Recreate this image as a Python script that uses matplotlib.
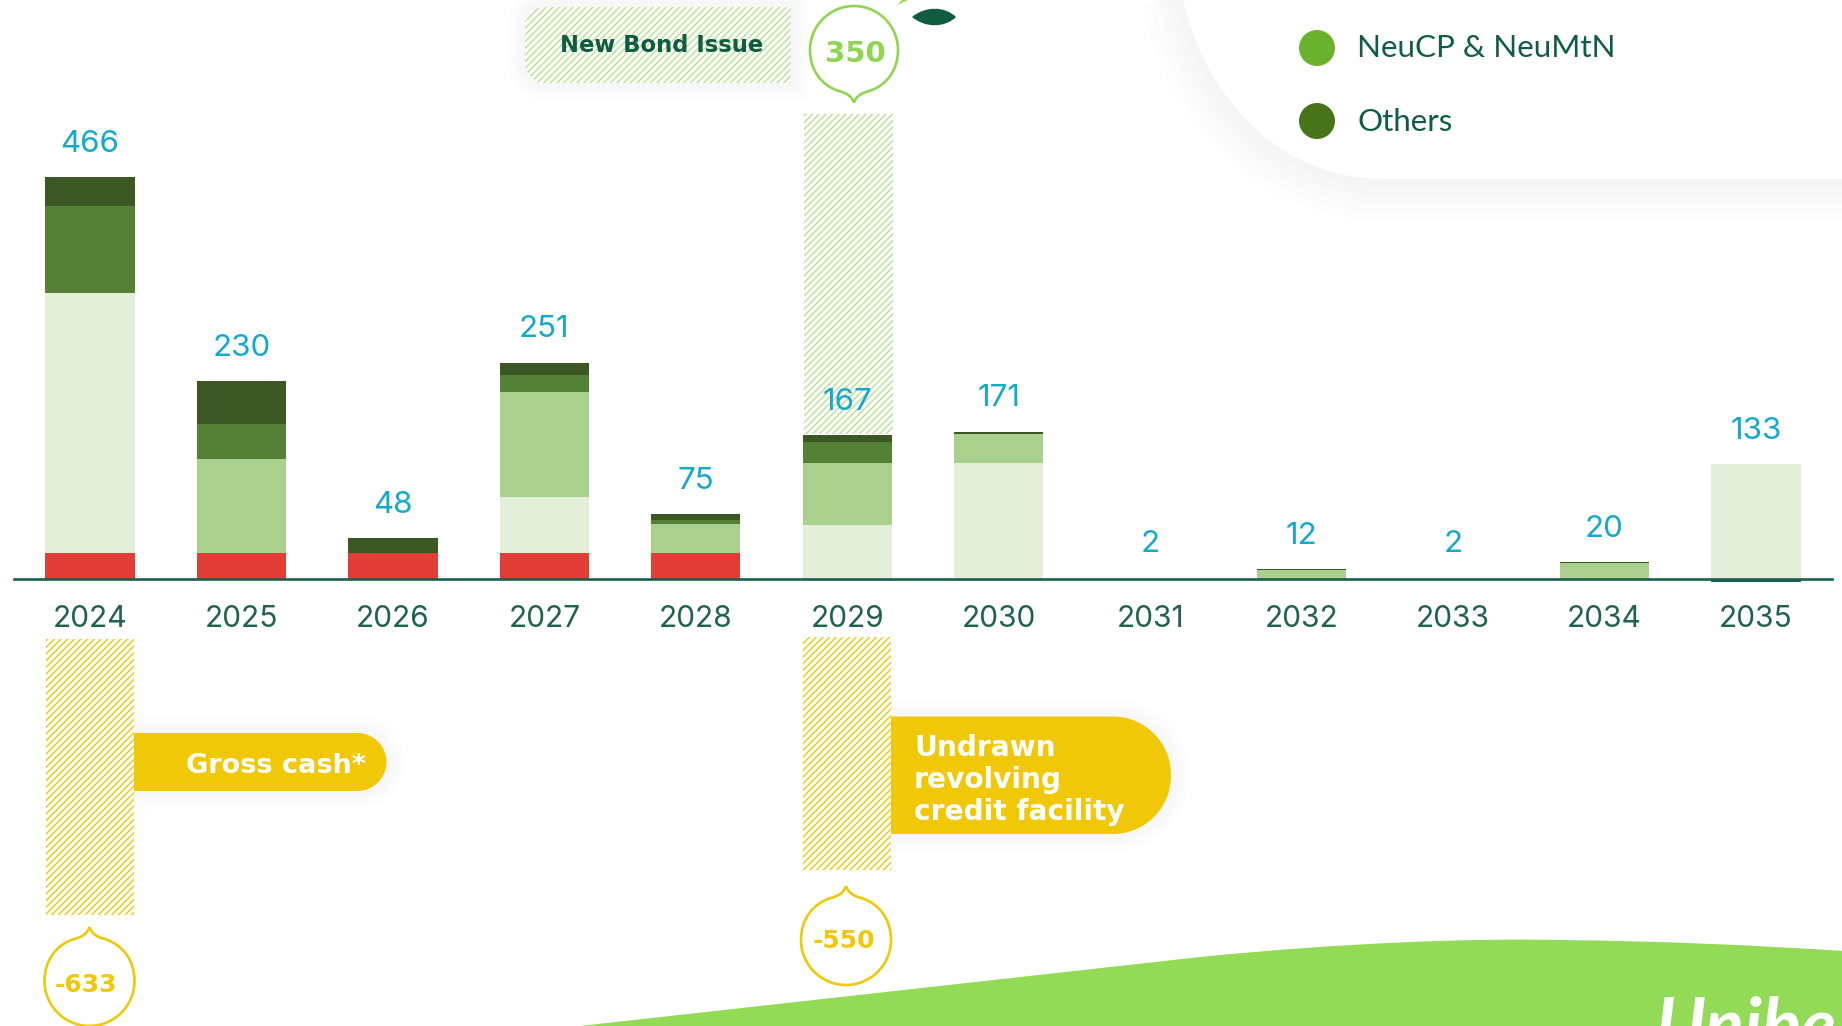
import matplotlib
matplotlib.use("Agg")
import matplotlib.pyplot as plt
from matplotlib.patches import PathPatch, Circle
from matplotlib.path import Path

plt.rcParams['font.family'] = ['Lato', 'DejaVu Sans']
plt.rcParams['hatch.linewidth'] = 1.0

# chart data
years = [2024, 2025, 2026, 2027, 2028, 2029, 2030, 2031, 2032, 2033, 2034, 2035]
totals = [466, 230, 48, 251, 75, 167, 171, 2, 12, 2, 20, 133]
red_part = [30, 30, 30, 30, 30, 0, 0, 0, 0, 0, 0, 0]
light_part = [302, 0, 0, 65, 0, 63, 134, 0, 0, 0, 0, 133]
medium_part = [0, 109, 0, 122, 34, 72, 34, 0, 10, 0, 18, 0]
green_part = [100, 41, 0, 19, 4, 24, 0, 0, 0, 0, 0, 0]
# 2031 and 2033 show a label but no visible bar
dark_part = [34, 50, 18, 15, 7, 8, 3, 0, 2, 0, 2, 0]

# the hatched bars are not drawn to the same scale as their labels
bond_year = 2029
bond_label = "350"
bond_drawn = 371
cash_years = [2024, 2029]
cash_labels = ["-633", "-550"]
cash_drawn = [320, 270]

legend_names = ["NeuCP & NeuMtN", "Others"]
legend_colors = ["#6AB22E", "#487519"]

RED = "#E23D36"
LIGHT = "#E3EFD8"
MEDIUM = "#A9D18D"
GREEN = "#548135"
DARK = "#3B5723"
BLUE = "#12A9CF"
TEAL = "#1E6350"
YELLOW = "#F0C808"
LIME = "#93DA57"

W, H = 1842, 1026
fig = plt.figure(figsize=(W / 100, H / 100), dpi=100, facecolor="white")

# pixel axes for the decoration
deco = fig.add_axes([0, 0, 1, 1])
deco.set_xlim(0, W)
deco.set_ylim(H, 0)
deco.axis("off")

# chart axes, also over the whole figure: 151.45 px per year, 0.8625 px per unit
ax = fig.add_axes([0, 0, 1, 1], facecolor="none")
step = 151.45
unit = 0.8625
base_y = 579
ax.set_xlim(2024 - 90 / step, 2024 + (W - 90) / step)
ax.set_ylim(-(H - base_y) / unit, base_y / unit)
for s in ["top", "left", "right"]:
    ax.spines[s].set_visible(False)
ax.spines["bottom"].set_position(("data", 0))
ax.spines["bottom"].set_bounds(2024 - 76 / step, 2024 + (1832 - 90) / step)
ax.spines["bottom"].set_color("#1A5F4E")
ax.spines["bottom"].set_linewidth(1.9)
ax.set_yticks([])
ax.set_xticks(years)
ax.set_xticklabels(years, fontsize=21.5, color=TEAL, family=["Inter", "DejaVu Sans"])
ax.tick_params(axis="x", length=0, pad=19)

bar_w = 0.59
bottom = [0] * len(years)
for part, col in [(red_part, RED), (light_part, LIGHT), (medium_part, MEDIUM),
                  (green_part, GREEN), (dark_part, DARK)]:
    ax.bar(years, part, bar_w, bottom=bottom, color=col, linewidth=0)
    bottom = [b + p for b, p in zip(bottom, part)]
ax.bar([2035], [-3], bar_w, color="#1A5F4E", linewidth=0)

for yr, t in zip(years, totals):
    ax.annotate(str(t), (yr, t), xytext=(0, 23.8), textcoords="offset points",
                ha="center", va="center", fontsize=22.5, color=BLUE,
                family=["Inter", "DejaVu Sans"])

# hatched bars
ax.bar([bond_year + 0.01], [bond_drawn], bar_w, bottom=[totals[5] + 1], color="white",
       edgecolor="#B5E08F", hatch="/////", linewidth=0, zorder=0.5)
cash_tops = [-69.4, -67]
for yr, d, top in zip(cash_years, cash_drawn, cash_tops):
    ax.bar([yr], [-d], 0.578, bottom=[top], color="white", edgecolor=YELLOW,
           hatch="/////", linewidth=0)


def shadow(path, z=1):
    for lw in [26, 20, 14, 8]:
        deco.add_patch(PathPatch(path, facecolor="none", edgecolor="black", alpha=0.006,
                                 linewidth=lw, zorder=z))


def tab(x0, y0, x1, y1, r, side):
    # box with round corners on one side only
    M, L, C, Z = Path.MOVETO, Path.LINETO, Path.CURVE4, Path.CLOSEPOLY
    k = 0.45 * r
    codes = [M, L, C, C, C, L, C, C, C, L, Z]
    if side == "right":
        verts = [(x0, y0), (x1 - r, y0), (x1 - k, y0), (x1, y0 + k), (x1, y0 + r),
                 (x1, y1 - r), (x1, y1 - k), (x1 - k, y1), (x1 - r, y1), (x0, y1), (x0, y0)]
    else:
        verts = [(x1, y0), (x0 + r, y0), (x0 + k, y0), (x0, y0 + k), (x0, y0 + r),
                 (x0, y1 - r), (x0, y1 - k), (x0 + k, y1), (x0 + r, y1), (x1, y1), (x1, y0)]
    return Path(verts, codes)


def drop(cx, cy, r, up, color):
    # round bubble with a small point on top or bottom
    s = -1 if up else 1
    pts = [(0, 1.2), (0.05, 1.0), (0.35, 0.93), (0.75, 0.8), (1, 0.45), (1, 0),
           (1, -0.55), (0.55, -1), (0, -1), (-0.55, -1), (-1, -0.55), (-1, 0),
           (-1, 0.45), (-0.75, 0.8), (-0.35, 0.93), (-0.05, 1.0), (0, 1.2)]
    codes = [Path.MOVETO, Path.CURVE3, Path.CURVE3] + [Path.CURVE4] * 12 + [Path.CURVE3, Path.CURVE3]
    verts = [(cx + x * r, cy + s * y * r) for x, y in pts]
    deco.add_patch(PathPatch(Path(verts, codes), facecolor="white", edgecolor=color,
                             linewidth=1.9, zorder=3))


# legend panel
panel = Path([(1182, -5), (1205, 100), (1280, 179), (1385, 179), (W + 30, 179), (W + 30, -5), (1182, -5)],
             [Path.MOVETO, Path.CURVE4, Path.CURVE4, Path.CURVE4, Path.LINETO, Path.LINETO, Path.CLOSEPOLY])
for lw in [60, 48, 36, 24, 12]:
    deco.add_patch(PathPatch(panel, facecolor="none", edgecolor="black", alpha=0.006, linewidth=lw, zorder=1))
deco.add_patch(PathPatch(panel, facecolor="white", edgecolor="none", zorder=1.5))
for name, col, y in zip(legend_names, legend_colors, [48, 122]):
    deco.add_patch(Circle((1317, min(y, 121)), 18, facecolor=col, edgecolor="none", zorder=2))
    deco.text(1357, y, name, fontsize=22.6, color="#0F5C45", va="center", ha="left", zorder=2)

# new bond tag
p = tab(525, 7, 791, 83, 20, "left")
shadow(p)
deco.add_patch(PathPatch(p, facecolor="white", edgecolor="#B5E08F", hatch="/////", linewidth=0, zorder=2))
deco.text(662, 46, "New Bond Issue", family=["DejaVu Sans"], fontweight="bold", fontsize=16.3,
          color="#0F5C40", ha="center", va="center", zorder=3)
drop(854, 50, 44, False, "#8FD650")
deco.text(855, 54, bond_label, family=["DejaVu Sans"], fontweight="bold", fontsize=21, color="#8FD650",
          ha="center", va="center", zorder=4)

# leaves at the top
leaf = Path([(912, 17), (925, 6), (945, 6), (956, 17), (945, 28), (925, 28), (912, 17)],
            [Path.MOVETO, Path.CURVE4, Path.CURVE4, Path.CURVE4, Path.CURVE4, Path.CURVE4, Path.CURVE4])
deco.add_patch(PathPatch(leaf, facecolor="#0F5C40", edgecolor="none", zorder=3))
deco.add_patch(PathPatch(Path([(897, 5), (905, -3), (915, -3), (897, 5)],
                              [Path.MOVETO, Path.LINETO, Path.LINETO, Path.CLOSEPOLY]),
                         facecolor="#93DA57", edgecolor="none", zorder=3))

# yellow tags
p = tab(133, 733, 386.5, 791, 29, "right")
shadow(p)
deco.add_patch(PathPatch(p, facecolor=YELLOW, edgecolor="none", zorder=2))
deco.text(276, 766, "Gross cash*", family=["DejaVu Sans"], fontweight="bold", fontsize=19.5, color="white",
          ha="center", va="center", zorder=3)
p = tab(890, 716.5, 1171, 834, 58, "right")
shadow(p)
deco.add_patch(PathPatch(p, facecolor=YELLOW, edgecolor="none", zorder=2))
for txt, y in zip(["Undrawn", "revolving", "credit facility"], [748, 780, 812]):
    deco.text(914, y, txt, family=["DejaVu Sans"], fontweight="bold", fontsize=20.2, color="white",
              ha="left", va="center", zorder=3)

drop(89.5, 981, 45, True, YELLOW)
deco.text(86, 985, cash_labels[0], family=["DejaVu Sans"], fontweight="bold", fontsize=18, color=YELLOW,
          ha="center", va="center", zorder=4)
drop(846, 940, 45, True, YELLOW)
deco.text(844, 941, cash_labels[1], family=["DejaVu Sans"], fontweight="bold", fontsize=18, color=YELLOW,
          ha="center", va="center", zorder=4)

# green hill at the bottom
hill = Path([(562, H + 2), (1200, 957), (1340, 943), (1470, 938), (1560, 940), (1660, 941), (1750, 945),
             (W + 2, 951), (W + 2, H + 2), (562, H + 2)],
            [Path.MOVETO, Path.LINETO, Path.CURVE4, Path.CURVE4, Path.CURVE4, Path.CURVE4, Path.CURVE4,
             Path.CURVE4, Path.LINETO, Path.CLOSEPOLY])
deco.add_patch(PathPatch(hill, facecolor=LIME, edgecolor="none", zorder=1))
deco.text(1656, 1049, "Unibe", fontsize=52, style="italic", fontweight="bold", color="white", ha="left",
          va="baseline", zorder=2, clip_on=True)

fig.savefig("out.png", dpi=100)
